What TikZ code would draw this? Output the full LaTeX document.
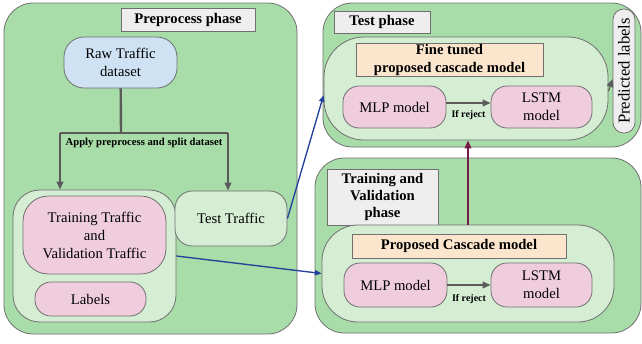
\documentclass[tikz,border=0pt]{standalone}
\usepackage{fontspec}
\setmainfont{Liberation Serif}
\usetikzlibrary{
    arrows.meta,
    fit,
    calc
}
\definecolor{phasegreen}{HTML}{A8DCA8}
\definecolor{innergreen}{HTML}{D5EDD3}
\definecolor{rawblue}{HTML}{CFE2F3}
\definecolor{modelpink}{HTML}{EFCDDD}
\definecolor{tagorange}{HTML}{FCE5CD}
\definecolor{taggrey}{HTML}{EEEEEE}
\definecolor{edgegrey}{HTML}{707070}
\definecolor{flowgrey}{HTML}{5A5A5A}
\definecolor{flowblue}{HTML}{23409A}
\definecolor{flowpurple}{HTML}{741B47}

\begin{document}
\begin{tikzpicture}[x=0.75pt, y=-0.75pt, font=\fontsize{11}{13.5}\selectfont,
    box/.style={draw=edgegrey, line width=0.6pt, inner sep=0pt, align=center},
    size/.style 2 args={minimum width=#1*0.75pt, minimum height=#2*0.75pt},
    phase/.style={box, fill=phasegreen, rounded corners=22pt},
    holder/.style={box, fill=innergreen, rounded corners=#1},
    pill/.style={box, fill=modelpink, rounded corners=#1},
    tag/.style={box, fill=taggrey, font=\fontsize{11}{13}\selectfont\bfseries},
    modeltag/.style={box, fill=tagorange, font=\fontsize{11}{13.5}\selectfont\bfseries},
    tree/.style={draw=flowgrey, line width=1.8pt},
    flow/.style={draw=flowgrey, line width=1.1pt, -{Triangle[length=6pt,width=5pt]}},
    small/.style={font=\fontsize{7.5}{9}\selectfont\bfseries}]
    \useasboundingbox (0,0) rectangle (642,343);

    % phases
    \node[phase, fit={(4,3) (297,334)}] (prep) {};
    \node[phase, fit={(323,3) (641,147)}] (testph) {};
    \node[phase, fit={(315,158) (641,333)}] (trainph) {};

    % preprocess phase
    \node[tag, size={134}{23}] (preptag) at (188,19.5) {Preprocess phase};
    \node[box, fill=rawblue, rounded corners=15pt, size={113}{51}] (raw) at (120.5,62.5) {Raw Traffic\\dataset};
    \node[holder=20pt, size={163}{132}] (trainhold) at (94.5,256) {};
    \node[pill=19pt, size={143}{78}] (trainval) at (94.5,235) {Training Traffic\\and\\Validation Traffic};
    \node[pill=12pt, size={111}{34}] (labels) at (90.5,299) {Labels};
    \node[holder=13pt, size={112}{55}] (testtr) at (231,218.5) {Test Traffic};
    \coordinate (split) at (121,133);
    \coordinate (splitL) at (60,133);
    \coordinate (splitR) at (228,133);
    \node[small, font=\fontsize{8}{9}\selectfont\bfseries] (applytxt) at (144,143) {Apply preprocess and split dataset};

    % test phase
    \node[tag, size={96}{22}] (testtag) at (382,22) {Test phase};
    \node[holder=30pt, size={284}{103}] (testin) at (466,88.5) {};
    \node[modeltag, size={187}{33}] (finetag) at (449.5,59.5) {Fine tuned\\proposed cascade model};
    \node[pill=12pt, size={103}{42}] (mlpA) at (394.5,107) {MLP model};
    \node[pill=12pt, size={101}{42}] (lstmA) at (541.5,107) {LSTM\\model};
    \node[box, fill=taggrey, rounded corners=8pt, rotate=90, size={124}{22}, font=\fontsize{12.5}{14}\selectfont] (pred) at (624,71) {Predicted labels};

    % training and validation phase
    \node[tag, size={111}{56}] (traintag) at (382.5,197) {Training and\\Validation\\phase};
    \node[holder=27pt, size={292}{97}] (trainin) at (468,273.5) {};
    \node[modeltag, size={214}{24}] (casctag) at (459,246) {Proposed Cascade model};
    \node[pill=12pt, size={103}{44}] (mlpB) at (395.5,285) {MLP model};
    \node[pill=12pt, size={101}{44}] (lstmB) at (541.5,285) {LSTM\\model};

    % connectors
    \draw[tree] (raw) -- (split);
    \draw[tree] (splitL) -- (splitR);
    \draw[flow] (splitL) -- (splitL |- trainhold.north);
    \draw[flow] (splitR) -- (splitR |- testtr.north);
    \draw[flowblue, line width=1pt, -{Triangle[length=5pt,width=4pt]}] (testtr.east) -- ([yshift=-5pt]testin.west);
    \draw[flowblue, line width=1pt, -{Triangle[length=5pt,width=4pt]}] (trainhold.east) -- (trainin.west);
    \draw[flowpurple, line width=1.1pt, -{Triangle[length=6pt,width=5pt]}] (trainin.north) -- (trainin.north |- testin.south);
    \draw[flow] ([yshift=3pt]mlpA.east) -- node[small, below=2pt] {If reject} ([yshift=3pt]lstmA.west);
    \draw[flow] (mlpB) -- node[small, below=3pt] {If reject} (lstmB);
    \draw[flow, line width=0.8pt] ([yshift=-2pt]testin.east) -- ([yshift=-6pt]pred.north);
\end{tikzpicture}
\end{document}
